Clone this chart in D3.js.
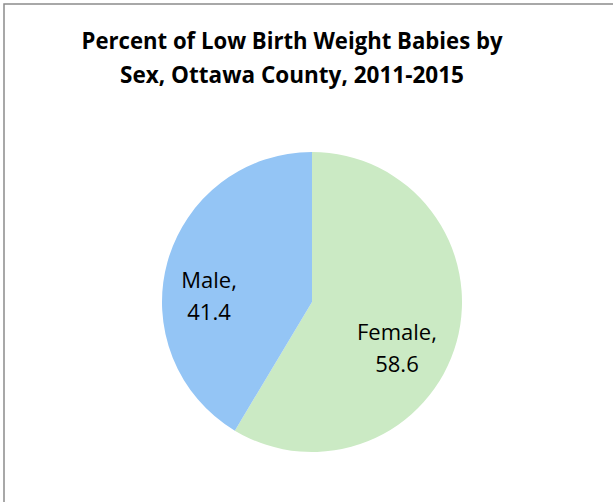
<!DOCTYPE html>
<head>
  <meta charset="utf-8">
  <script src="https://d3js.org/d3.v7.min.js"></script>
  <style>
    body { margin:0; background:white; }
    .title { font-family: 'Open Sans', sans-serif; font-weight: 700; font-size: 23px; fill: black; }
    .sliceLabel { font-family: 'Open Sans', sans-serif; font-weight: 400; font-size: 22px; fill: black; }
  </style>
</head>
<body>
  <script>
    // chart data
    const categories = ['Female', 'Male'];
    const values = [58.6, 41.4];
    const colors = ['#cbeac4', '#94c5f5'];
    const titleLines = ['Percent of Low Birth Weight Babies by', 'Sex, Ottawa County, 2011-2015'];

    const width = 613, height = 502;

    const svg = d3.select('body')
                  .append('svg')
                  .attr('width', width)
                  .attr('height', height);

    // chart frame (runs off the right and bottom edge)
    svg.append('rect')
       .attr('x', 4)
       .attr('y', 4)
       .attr('width', width + 10)
       .attr('height', height + 10)
       .style('fill', 'none')
       .style('stroke', '#8c8c8c')
       .style('stroke-width', 1.5);

    // title, two lines, squeezed to the narrow Calibri width
    const titleWidths = [421, 344];
    svg.selectAll('.title')
       .data(titleLines)
       .enter()
       .append('text')
       .classed('title', true)
       .attr('x', 292)
       .attr('y', (d, i) => 49 + i * 34)
       .attr('text-anchor', 'middle')
       .attr('textLength', (d, i) => titleWidths[i])
       .attr('lengthAdjust', 'spacingAndGlyphs')
       .text(d => d);

    // pie
    const cx = 312, cy = 302, radius = 150;
    const data = categories.map((c, i) => ({ name: c, value: values[i], color: colors[i] }));

    const pie = d3.pie()
                  .sort(null)
                  .value(d => d.value);

    const arc = d3.arc()
                  .innerRadius(0)
                  .outerRadius(radius);

    const g = svg.append('g')
                 .attr('transform', `translate(${cx}, ${cy})`);

    const arcs = pie(data);

    g.selectAll('path')
     .data(arcs)
     .enter()
     .append('path')
     .attr('d', arc)
     .style('fill', d => d.data.color);

    // labels: on a ring inside the slice, nudged down-left a bit (Excel best fit)
    const labelArc = d3.arc()
                       .innerRadius(radius * 0.65)
                       .outerRadius(radius * 0.65);

    const labels = g.selectAll('.sliceLabel')
      .data(arcs)
      .enter()
      .append('text')
      .classed('sliceLabel', true)
      .attr('text-anchor', 'middle')
      .attr('transform', d => {
        const p = labelArc.centroid(d);
        return `translate(${p[0] - 9}, ${p[1] + 20})`;
      });

    labels.append('tspan')
          .attr('x', 0)
          .attr('dy', -8)
          .text(d => d.data.name + ',');
    labels.append('tspan')
          .attr('x', 0)
          .attr('dy', 32)
          .text(d => d.data.value.toFixed(1));
  </script>
</body>
